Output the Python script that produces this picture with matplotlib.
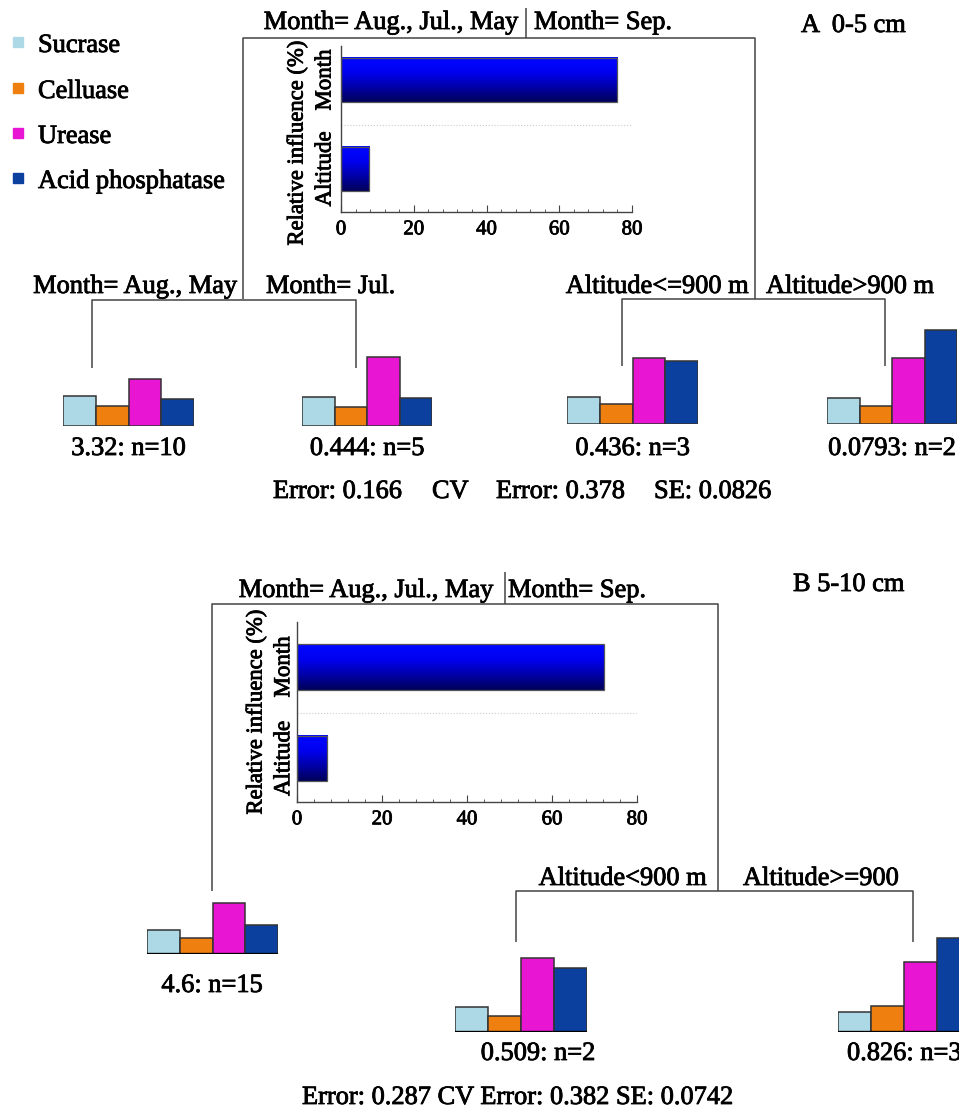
import numpy as np
import matplotlib
matplotlib.use("Agg")
import matplotlib.pyplot as plt
import matplotlib.patheffects as pe
from matplotlib.colors import LinearSegmentedColormap
from matplotlib.ticker import MultipleLocator

plt.rcParams["font.family"] = ["Liberation Serif", "DejaVu Serif"]

# ── Data ─────────────────────────────────────────────────────────────────────
ENZYMES = ["Sucrase", "Celluase", "Urease", "Acid phosphatase"]
ENZ_COLORS = ["#ADD8E6", "#EF7F0F", "#E816D3", "#0B409E"]

PREDICTORS = ["Altitude", "Month"]
A_INFLUENCE = [7.7, 76.0]
B_INFLUENCE = [7.1, 72.2]

# leaf histograms (relative enzyme levels, same scale for every leaf)
A_LEAF_LABELS = ["3.32: n=10", "0.444: n=5", "0.436: n=3", "0.0793: n=2"]
A_LEAF_VALUES = [[30, 20, 47, 27],
                 [29, 19, 69, 28],
                 [27, 20, 66, 63],
                 [26, 18, 66, 94]]
B_LEAF_LABELS = ["4.6: n=15", "0.509: n=2", "0.826: n=3"]
B_LEAF_VALUES = [[24, 16, 51, 29],
                 [25, 16, 74, 64],
                 [20, 26, 70, 94]]

A_SPLITS = ["Month= Aug., Jul., May", "Month= Sep.",
            "Month= Aug., May", "Month= Jul.",
            "Altitude<=900 m", "Altitude>900 m"]
B_SPLITS = ["Month= Aug., Jul., May", "Month= Sep.",
            "Altitude<900 m", "Altitude>=900"]
A_ERRORS = ["Error: 0.166", "CV", "Error: 0.378", "SE: 0.0826"]
B_ERROR = "Error: 0.287 CV Error: 0.382 SE: 0.0742"

# ── Figure in pixel coordinates ──────────────────────────────────────────────
W, H = 959, 1108
fig = plt.figure(figsize=(W / 100, H / 100), dpi=100, facecolor="white")
ax = fig.add_axes([0, 0, 1, 1])
ax.set_xlim(0, W)
ax.set_ylim(H, 0)
ax.axis("off")

LINE = dict(color="#444444", lw=1.1, solid_capstyle="butt")
FS = 19
HEAVY = [pe.withStroke(linewidth=0.6, foreground="black")]


def px_axes(x0, y0, x1, y1):
    return fig.add_axes([x0 / W, 1 - y1 / H, (x1 - x0) / W, (y1 - y0) / H])


def txt(x, y, s, ha="left", size=FS, **kw):
    ax.text(x, y, s, ha=ha, va="baseline", fontsize=size, color="black",
            path_effects=HEAVY, **kw)


def seg(*pts):
    xs, ys = zip(*pts)
    ax.plot(xs, ys, **LINE)


def leaf(x0, x1, base, values, thick_base=False):
    la = px_axes(x0, base - 100, x1, base)
    la.bar(range(4), values, width=1.0, color=ENZ_COLORS,
           edgecolor="#333333", linewidth=1.1)
    if thick_base:
        la.axhline(0, color="black", lw=2.4)
    la.set_xlim(-0.5, 3.5)
    la.set_ylim(0, 100)
    la.axis("off")
    la.patch.set_alpha(0)


blue_cmap = LinearSegmentedColormap.from_list(
    "bar", ["#00005A", "#0000A8", "#0000F0", "#0008FF"])


def influence(box, values, ylim, fs_tick=15, ypad=4):
    ia = px_axes(*box)
    grad = np.linspace(0, 1, 64).reshape(-1, 1)
    for i, v in enumerate(values):
        ia.imshow(grad, cmap=blue_cmap, origin="lower", aspect="auto",
                  extent=[0, v, i - 0.25, i + 0.25], zorder=2)
        ia.barh(i, v, height=0.5, fill=False, edgecolor="#555555",
                linewidth=0.9, zorder=3)
    ia.axhline(0.5, color="#cccccc", lw=0.8, ls=":", zorder=1)
    ia.set_xlim(0, 80)
    ia.set_ylim(*ylim)
    ia.set_xticks([0, 20, 40, 60, 80])
    ia.xaxis.set_minor_locator(MultipleLocator(4))
    ia.tick_params(axis="x", which="both", direction="in", labelsize=fs_tick,
                   pad=6, color="#444444")
    ia.tick_params(axis="x", which="major", length=5)
    ia.tick_params(axis="x", which="minor", length=2.5)
    ia.set_yticks([0, 1])
    ia.set_yticklabels(PREDICTORS, rotation=90, va="center", fontsize=16.5)
    ia.tick_params(axis="y", length=0, pad=ypad)
    for lab in ia.get_xticklabels() + ia.get_yticklabels():
        lab.set_path_effects(HEAVY)
    for s in ("top", "right"):
        ia.spines[s].set_visible(False)
    for s in ("left", "bottom"):
        ia.spines[s].set_color("#444444")
        ia.spines[s].set_linewidth(1.0)
    ia.patch.set_alpha(0)
    return ia


# ── Legend ───────────────────────────────────────────────────────────────────
for name, col, yc in zip(ENZYMES, ENZ_COLORS, [42, 88, 133, 178]):
    ax.add_patch(plt.Rectangle((13, yc - 5), 10, 10, color=col))
    txt(38, yc + 10, name)

# ── Panel A ─────────────────────────────────────────────────────────────────
txt(801, 32, "A  0-5 cm")
txt(391, 29, A_SPLITS[0], ha="center")
txt(534, 29, A_SPLITS[1])
seg((526, 8), (526, 38))
seg((243, 299), (243, 38), (755, 38), (755, 299))

txt(237, 293, A_SPLITS[2], ha="right")
txt(266, 293, A_SPLITS[3])
seg((92, 368), (92, 300), (356, 300), (356, 368))
txt(749, 293, A_SPLITS[4], ha="right")
txt(766, 293, A_SPLITS[5])
seg((622, 366), (622, 299), (885, 299), (885, 366))

influence((341, 46, 632, 212), A_INFLUENCE, (-0.483, 1.382))
ax.text(297, 143, "Relative influence (%)", rotation=90, ha="center",
        va="center", fontsize=16.3, path_effects=HEAVY)

a_boxes = [(63, 194, 426), (302, 432, 426), (567, 698, 424), (827, 957, 424)]
for (x0, x1, base), vals, lab in zip(a_boxes, A_LEAF_VALUES, A_LEAF_LABELS):
    leaf(x0, x1, base, vals)
    txt((x0 + x1) / 2, 455, lab, ha="center")

for s, x in zip(A_ERRORS, [273, 432, 496, 654]):
    txt(x, 498, s)

# ── Panel B ─────────────────────────────────────────────────────────────────
txt(793, 591, "B 5-10 cm")
txt(366, 597, B_SPLITS[0], ha="center")
txt(508, 597, B_SPLITS[1])
seg((505, 572), (505, 604))
seg((212, 891), (212, 604), (718, 604), (718, 891))

txt(707, 885, B_SPLITS[2], ha="right")
txt(743, 885, B_SPLITS[3])
seg((516, 942), (516, 891), (913, 891), (913, 942))

influence((297, 622, 637, 802), B_INFLUENCE, (-0.475, 1.49), ypad=2)
ax.text(256, 712, "Relative influence (%)", rotation=90, ha="center",
        va="center", fontsize=16.3, path_effects=HEAVY)

b_boxes = [(147, 278, 954), (455, 587, 1032), (838, 970, 1032)]
b_label_pos = [(212, 992, "center"), (538, 1060, "center"), (847, 1060, "left")]
for (x0, x1, base), vals, lab, (lx, ly, ha) in zip(b_boxes, B_LEAF_VALUES,
                                                   B_LEAF_LABELS, b_label_pos):
    leaf(x0, x1, base, vals, thick_base=True)
    txt(lx, ly, lab, ha=ha)

txt(302, 1104, B_ERROR)

fig.savefig("out.png", dpi=100, facecolor="white")
